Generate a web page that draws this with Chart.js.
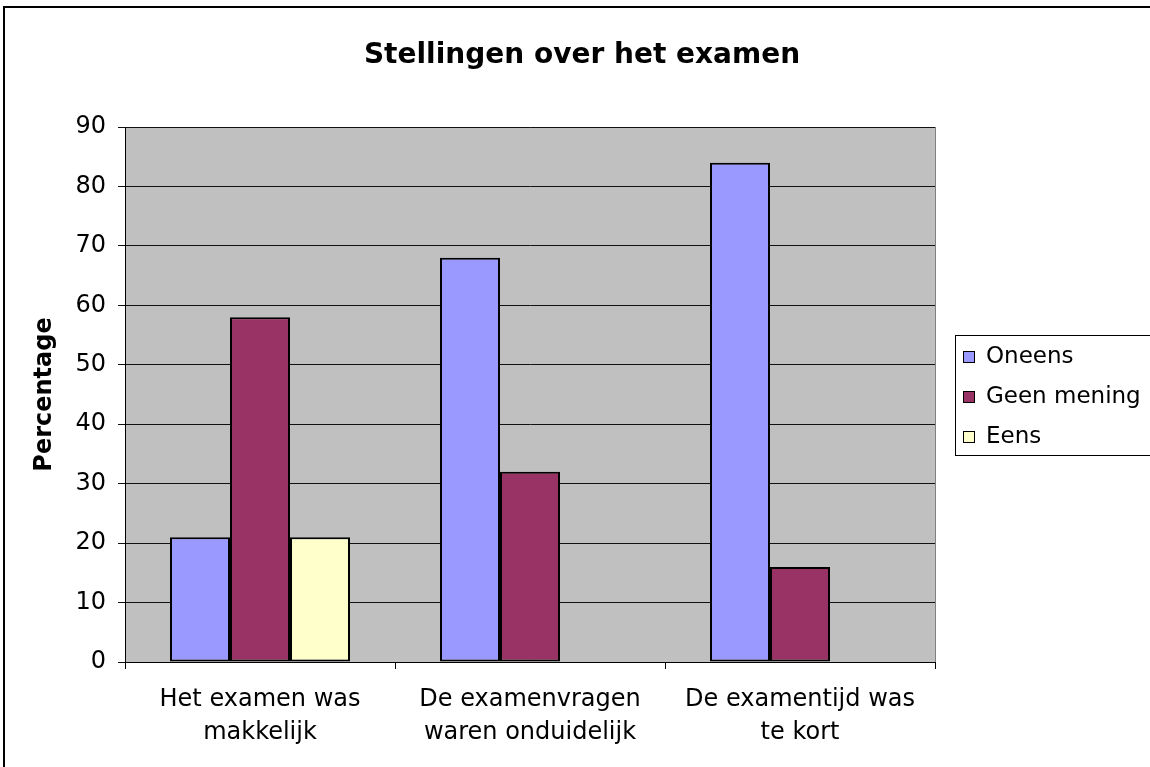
<!DOCTYPE html>
<html>
<head>
<meta charset="utf-8">
<script src="https://cdn.jsdelivr.net/npm/chart.js@4.4.0/dist/chart.umd.min.js"></script>
<style>
  html, body { margin: 0; padding: 0; background: #fff; }
  #wrap { width: 1150px; height: 767px; position: relative; }
</style>
</head>
<body>
<div id="wrap"><canvas id="chart" width="1150" height="767"></canvas></div>
<script>
// data
const categories = [
  ['Het examen was', 'makkelijk'],
  ['De examenvragen', 'waren onduidelijk'],
  ['De examentijd was', 'te kort']
];
const oneens = [21, 68, 84];
const geenMening = [58, 32, 16];
const eens = [21, null, null];
const seriesNames = ['Oneens', 'Geen mening', 'Eens'];
const seriesColors = ['#9999FF', '#993366', '#FFFFCC'];

const FONT = 'DejaVu Sans, Verdana, sans-serif';

// grijze achtergrond + kader + legenda
const excelLook = {
  id: 'excelLook',
  beforeDraw(chart) {
    const { ctx, chartArea: a } = chart;
    ctx.save();
    ctx.fillStyle = '#C0C0C0';
    ctx.fillRect(a.left, a.top, a.right - a.left, a.bottom - a.top);
    ctx.strokeStyle = '#808080';
    ctx.lineWidth = 1;
    ctx.strokeRect(a.left + 0.5, a.top + 0.5, a.right - a.left, a.bottom - a.top);
    ctx.restore();
  },
  afterDraw(chart) {
    const { ctx } = chart;
    ctx.save();
    // buitenkader
    ctx.strokeStyle = '#000';
    ctx.lineWidth = 2;
    ctx.strokeRect(4, 7, 1200, 1000);
    // legenda
    ctx.lineWidth = 1;
    ctx.strokeStyle = '#000';
    ctx.strokeRect(955.5, 335.5, 220, 120);
    ctx.font = '23px ' + FONT;
    ctx.textBaseline = 'middle';
    chart.data.datasets.forEach((ds, i) => {
      const y = 357 + i * 40;
      ctx.fillStyle = ds.backgroundColor;
      ctx.fillRect(963, y - 6, 12, 12);
      ctx.strokeRect(963.5, y - 5.5, 11, 11);
      ctx.fillStyle = '#000';
      ctx.fillText(ds.label, 986, y);
    });
    ctx.restore();
  }
};

new Chart(document.getElementById('chart'), {
  type: 'bar',
  data: {
    labels: categories,
    datasets: [oneens, geenMening, eens].map((vals, i) => ({
      label: seriesNames[i],
      data: vals,
      backgroundColor: seriesColors[i],
      borderColor: '#000',
      borderWidth: 2,
      borderSkipped: false,
      barPercentage: 1,
      categoryPercentage: 180 / 270
    }))
  },
  options: {
    responsive: false,
    animation: false,
    layout: { padding: { left: 14, right: 0, top: 0, bottom: 0 } },
    plugins: {
      legend: { display: false },
      tooltip: { enabled: false },
      title: {
        display: true,
        text: 'Stellingen over het examen',
        color: '#000',
        font: { family: FONT, size: 28, weight: 'bold' },
        padding: { top: 39, bottom: 54.4 }
      }
    },
    scales: {
      x: {
        afterFit(scale) { scale.height = 105; },
        grid: { drawOnChartArea: false, offset: true, tickLength: 7, color: '#000' },
        border: { color: '#000', width: 1 },
        ticks: {
          color: '#000',
          font: { family: FONT, size: 24, lineHeight: 1.375 },
          padding: 14.5,
          maxRotation: 0
        }
      },
      y: {
        min: 0,
        max: 90,
        afterFit(scale) { scale.width = 111; },
        ticks: {
          stepSize: 10,
          color: '#000',
          font: { family: FONT, size: 24 },
          padding: 12
        },
        grid: { color: '#111', tickLength: 7, lineWidth: 1 },
        border: { color: '#000', width: 1 },
        title: {
          display: true,
          text: 'Percentage',
          color: '#000',
          font: { family: FONT, size: 24, weight: 'bold' },
          padding: { top: 16 }
        }
      },
      // lege as rechts: ruimte voor de legenda
      ruimte: {
        type: 'linear',
        position: 'right',
        afterFit(scale) { scale.width = 215; },
        grid: { display: false },
        ticks: { display: false },
        border: { display: false }
      }
    }
  },
  plugins: [excelLook]
});
</script>
</body>
</html>
